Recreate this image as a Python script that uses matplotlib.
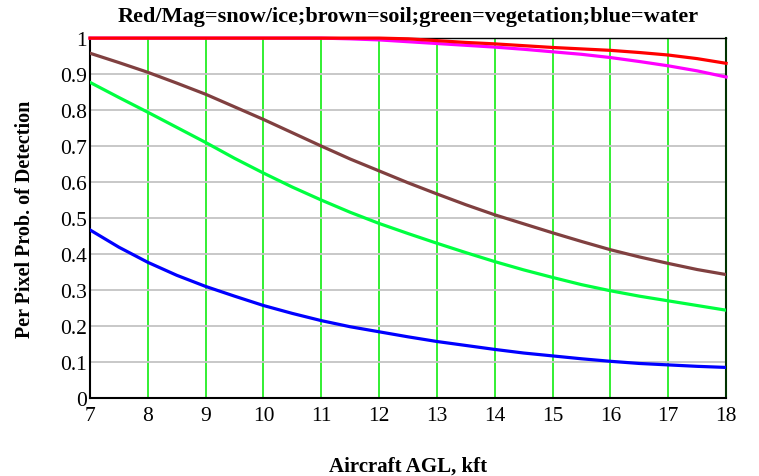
import numpy as np
import matplotlib
matplotlib.use("Agg")
import matplotlib.pyplot as plt

# --- Data: per pixel detection probability vs altitude (half-kft steps) ---
alt_kft = [7, 7.5, 8, 8.5, 9, 9.5, 10, 10.5, 11, 11.5, 12, 12.5,
           13, 13.5, 14, 14.5, 15, 15.5, 16, 16.5, 17, 17.5, 18]
snow_red = [1.0, 1.0, 1.0, 1.0, 1.0, 1.0, 1.0, 1.0, 1.0, 1.0, 1.0, 0.998,
            0.993, 0.988, 0.984, 0.979, 0.974, 0.97, 0.966, 0.96, 0.953, 0.943, 0.93]
ice_mag = [1.0, 1.0, 1.0, 1.0, 1.0, 1.0, 1.0, 1.0, 1.0, 0.998, 0.995, 0.99,
           0.985, 0.98, 0.975, 0.969, 0.962, 0.955, 0.946, 0.935, 0.923, 0.909, 0.892]
soil_brown = [0.958, 0.932, 0.905, 0.875, 0.844, 0.809, 0.774, 0.737, 0.7, 0.664, 0.631, 0.598,
              0.567, 0.537, 0.509, 0.484, 0.459, 0.435, 0.412, 0.392, 0.374, 0.357, 0.343]
veg_green = [0.877, 0.835, 0.794, 0.752, 0.71, 0.666, 0.625, 0.586, 0.55, 0.516, 0.485, 0.457,
             0.43, 0.404, 0.379, 0.356, 0.335, 0.315, 0.298, 0.283, 0.27, 0.257, 0.244]
water_blue = [0.467, 0.419, 0.377, 0.341, 0.31, 0.283, 0.257, 0.235, 0.215, 0.198, 0.184, 0.17,
              0.157, 0.146, 0.135, 0.125, 0.117, 0.109, 0.102, 0.096, 0.092, 0.088, 0.085]

x_ticks = list(range(7, 19))
y_ticks = [0, 0.1, 0.2, 0.3, 0.4, 0.5, 0.6, 0.7, 0.8, 0.9, 1]
y_tick_labels = ["0", "0.1", "0.2", "0.3", "0.4", "0.5", "0.6", "0.7", "0.8", "0.9", "1"]

plt.rcParams["font.family"] = ["Liberation Serif", "DejaVu Serif"]

fig = plt.figure(figsize=(7.59, 4.77), dpi=100)
ax = fig.add_axes([0.1186, 0.1635, 0.8380, 0.7545])

# grid: green verticals, gray horizontals
for xv in x_ticks[1:-1]:
    ax.axvline(xv, color="#22ee22", lw=1.3, zorder=1)
for yv in y_ticks[1:-1]:
    ax.axhline(yv, color="#c4c4c4", lw=1.3, zorder=1)

lw = 2.3
ax.plot(alt_kft, water_blue, color="#0000ff", lw=lw, zorder=3)
ax.plot(alt_kft, veg_green, color="#00ff40", lw=lw, zorder=3)
ax.plot(alt_kft, soil_brown, color="#804040", lw=lw, zorder=3)
ax.plot(alt_kft, ice_mag, color="#ff00ff", lw=lw, zorder=3, clip_on=False)
ax.plot(alt_kft, snow_red, color="#ff0000", lw=lw, zorder=4, clip_on=False)

ax.set_xlim(7, 18)
ax.set_ylim(0, 1)
ax.set_xticks(x_ticks)
ax.set_yticks(y_ticks)
ax.set_yticklabels(y_tick_labels)
ax.tick_params(length=0, labelsize=15.5)
ax.tick_params(axis="x", pad=6)
ax.tick_params(axis="y", pad=2)

for side in ["left", "bottom"]:
    ax.spines[side].set_color("black")
    ax.spines[side].set_linewidth(1.5)
ax.spines["right"].set_color("#003300")
ax.spines["right"].set_linewidth(1.5)
ax.spines["top"].set_color("black")
ax.spines["top"].set_linewidth(1.0)

ax.set_title("Red/Mag=snow/ice;brown=soil;green=vegetation;blue=water",
             fontsize=16, fontweight="bold", pad=12)
ax.set_xlabel("Aircraft AGL, kft", fontsize=15, fontweight="bold", labelpad=22)
ax.set_ylabel("Per Pixel Prob. of Detection", fontsize=14.5, fontweight="bold", labelpad=18)

fig.savefig("out.png", dpi=100)
